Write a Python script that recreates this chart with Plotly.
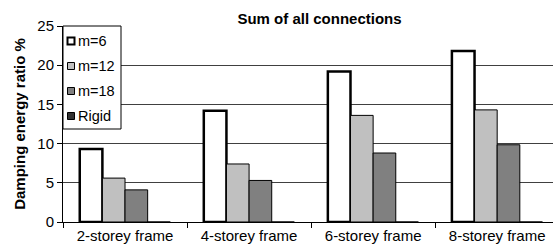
import plotly.graph_objects as go

categories = ["2-storey frame", "4-storey frame", "6-storey frame", "8-storey frame"]
m6 = [9.3, 14.2, 19.2, 21.8]
m12 = [5.6, 7.4, 13.6, 14.3]
m18 = [4.1, 5.3, 8.8, 9.85]
rigid = [0, 0, 0, 0]

series_names = ["m=6", "m=12", "m=18", "Rigid"]
series_vals = [m6, m12, m18, rigid]
series_colors = ["white", "#C0C0C0", "#808080", "#333333"]
series_lw = [2.5, 1, 1, 1]

# plot area in pixels (for the hand-drawn legend box)
L, R, T, B = 63, 553, 26, 222
def px(x): return (x - L) / (R - L)
def py(y): return (B - y) / (B - T)

fig = go.Figure()
for name, vals, col, lw in zip(series_names, series_vals, series_colors, series_lw):
    fig.add_trace(go.Bar(
        x=categories, y=vals, name=name,
        marker=dict(color=col, line=dict(color="black", width=lw)),
    ))

shapes = [dict(type="rect", xref="paper", yref="paper",
               x0=px(63), x1=px(121), y0=py(129), y1=py(26),
               fillcolor="white", line=dict(color="black", width=1), layer="above")]
annotations = []
item_y = [41, 66, 91, 116]
for name, col, lw, yc in zip(series_names, series_colors, series_lw, item_y):
    shapes.append(dict(type="rect", xref="paper", yref="paper",
                       x0=px(67.5), x1=px(74.5), y0=py(yc + 3.5), y1=py(yc - 3.5),
                       fillcolor=col, line=dict(color="black", width=2 if lw > 2 else 1),
                       layer="above"))
    annotations.append(dict(text=name, xref="paper", yref="paper", x=px(76), y=py(yc),
                            xanchor="left", yanchor="middle", showarrow=False,
                            font=dict(size=14.5)))

fig.update_layout(
    width=553, height=249,
    margin=dict(l=L, r=553 - R, t=T, b=249 - B),
    paper_bgcolor="white", plot_bgcolor="white",
    font=dict(family="Liberation Sans, Arial", size=15, color="black"),
    barmode="group", bargap=0.27, bargroupgap=0,
    title=dict(text="<b>Sum of all connections</b>", x=319.5 / 553, xanchor="center",
               y=1 - 19 / 249, yanchor="middle", font=dict(size=15)),
    showlegend=False,
    shapes=shapes, annotations=annotations,
    xaxis=dict(range=[-0.5, 3.45], showline=True, linecolor="black", linewidth=1,
               ticks="outside", tickson="boundaries", ticklen=5, tickcolor="black",
               showgrid=False, tickfont=dict(size=15), automargin=False),
    yaxis=dict(range=[0, 25], dtick=5, showline=True, linecolor="black", linewidth=1,
               ticks="outside", ticklen=5, tickcolor="black",
               showgrid=True, gridcolor="#404040", gridwidth=1, zeroline=False,
               title=dict(text="<b>Damping energy ratio %</b>", font=dict(size=15), standoff=8),
               tickfont=dict(size=15), automargin=False),
)

fig.write_html("out.html", config={"displayModeBar": False},
               post_script="document.body.style.margin='0';document.body.style.overflow='hidden';")
